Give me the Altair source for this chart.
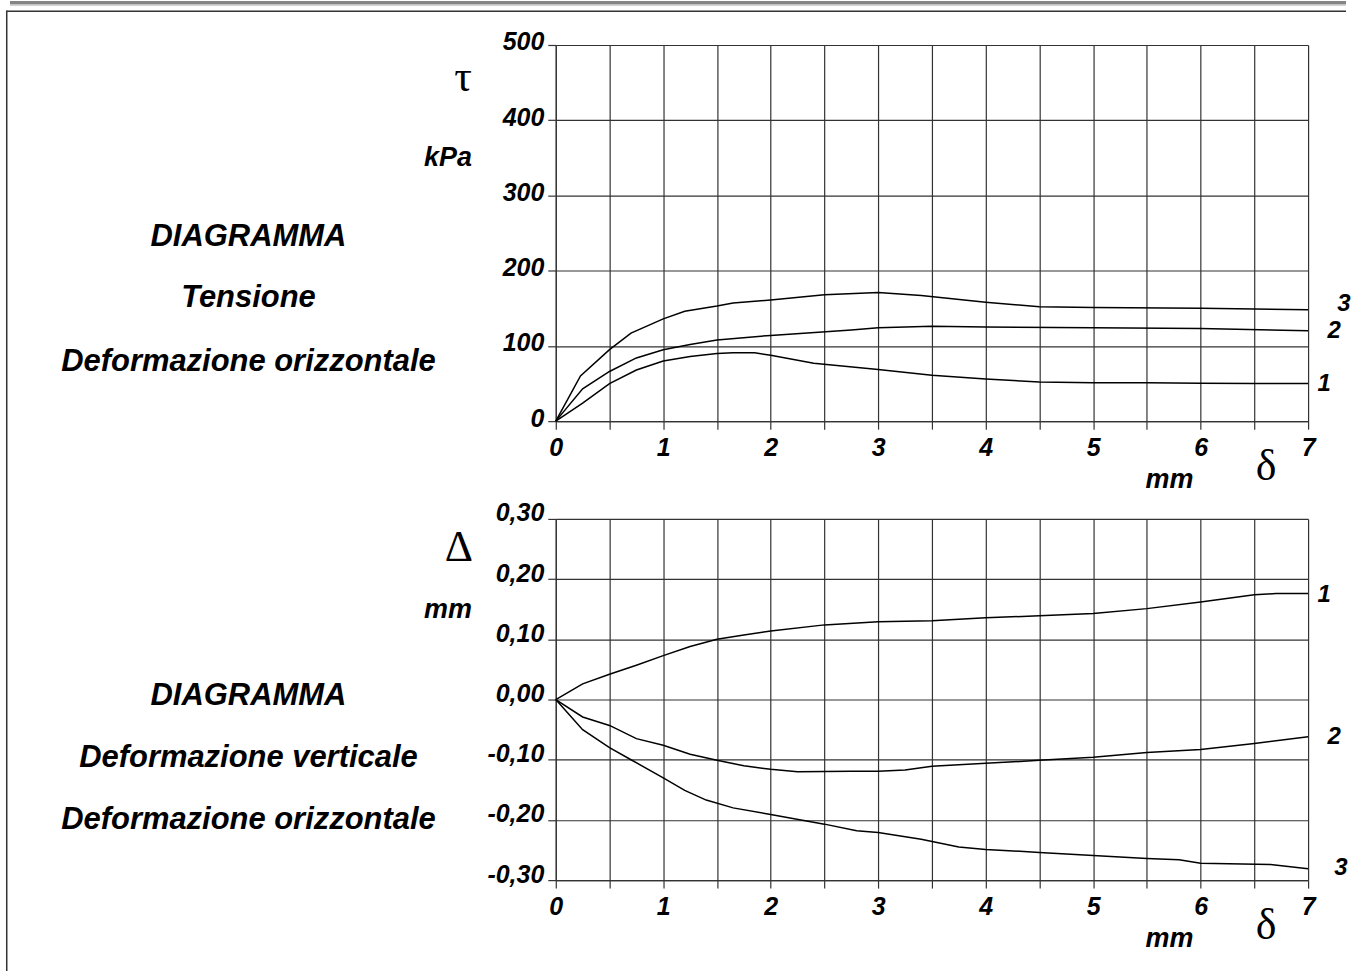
import altair as alt
import pandas as pd

# ---- Shear stress tau (kPa) against horizontal displacement delta (mm) ----
tau_delta_1 = [0, 0.25, 0.5, 0.75, 1.0, 1.25, 1.5, 1.65, 1.85, 2.0, 2.4, 3.0, 3.5, 4.0, 4.5, 5.0, 5.5, 6.0, 6.5, 7.0]
tau_value_1 = [0, 24, 50, 68, 80, 86, 90, 91, 91, 87.5, 77, 68.5, 61, 56, 52, 51, 51, 50.5, 50, 50]

tau_delta_2 = [0, 0.25, 0.5, 0.75, 1.0, 1.25, 1.5, 2.0, 2.75, 3.0, 3.5, 4.0, 5.0, 6.0, 7.0]
tau_value_2 = [0, 43, 66, 84, 95, 102, 108, 114, 121, 124, 126, 125, 124, 123, 120]

tau_delta_3 = [0, 0.23, 0.5, 0.7, 1.0, 1.2, 1.5, 1.65, 2.0, 2.5, 3.0, 3.4, 4.0, 4.5, 5.0, 6.0, 7.0]
tau_value_3 = [0, 60, 95, 117, 136, 146, 153, 157, 161, 168, 171, 167, 158, 152, 151, 150, 148]

# ---- Vertical deformation Delta (mm) against horizontal displacement delta (mm) ----
dv_delta_1 = [0, 0.25, 0.5, 0.75, 1.0, 1.25, 1.5, 1.75, 2.0, 2.5, 3.0, 3.5, 4.0, 4.5, 5.0, 5.5, 6.0, 6.5, 6.7, 7.0]
dv_value_1 = [0, 0.026, 0.042, 0.057, 0.073, 0.088, 0.100, 0.107, 0.114, 0.124, 0.129, 0.131, 0.136, 0.139,
              0.143, 0.151, 0.162, 0.174, 0.176, 0.176]

dv_delta_2 = [0, 0.25, 0.5, 0.75, 1.0, 1.25, 1.5, 1.75, 2.0, 2.25, 2.75, 3.0, 3.25, 3.5, 4.0, 4.5, 5.0, 5.5,
              6.0, 6.5, 7.0]
dv_value_2 = [0, -0.029, -0.043, -0.065, -0.076, -0.091, -0.101, -0.110, -0.116, -0.120, -0.119, -0.119,
              -0.117, -0.111, -0.106, -0.101, -0.096, -0.088, -0.083, -0.073, -0.062]

dv_delta_3 = [0, 0.25, 0.5, 0.7, 1.0, 1.2, 1.4, 1.65, 2.0, 2.5, 2.8, 3.0, 3.4, 3.75, 4.0, 4.5, 5.0, 5.5,
              5.8, 6.0, 6.65, 7.0]
dv_value_3 = [0, -0.050, -0.080, -0.100, -0.130, -0.151, -0.167, -0.180, -0.191, -0.207, -0.218, -0.221,
              -0.232, -0.245, -0.249, -0.254, -0.259, -0.264, -0.266, -0.272, -0.274, -0.281]

curve_names = ["1", "2", "3"]

x_ticks = [i * 0.5 for i in range(15)]
tau_ticks = list(range(0, 501, 50))
dv_ticks = [round(-0.30 + 0.05 * i, 2) for i in range(13)]

SANS = "Liberation Sans"
SERIF = "Liberation Serif"
INK = "#333333"

W = 754
H_TOP = 377
H_BOT = 362


def curves_frame(pairs):
    rows = []
    for name, (xs, ys) in zip(curve_names, pairs):
        for x, y in zip(xs, ys):
            rows.append({"curve": name, "d": x, "v": y})
    return pd.DataFrame(rows)


def axis_common(**kw):
    return alt.Axis(
        title=None, grid=True, gridColor=INK, gridWidth=1.2, gridOpacity=1,
        domainColor=INK, domainWidth=1.2, tickColor=INK, tickWidth=1.2, tickSize=8,
        labelFont=SANS, labelFontSize=25, labelFontStyle="italic", labelFontWeight="bold",
        labelColor="black", labelOverlap=False, labelFlush=False, labelBound=False, **kw)


x_axis = axis_common(values=x_ticks,
                     labelExpr="datum.value % 1 === 0 ? format(datum.value, 'd') : ''",
                     labelPadding=6, labelAlign="center", labelBaseline="top")


def text_at(s, x, y, size, font=SANS, align="center", italic=True, bold=True):
    return alt.Chart(pd.DataFrame({"k": [0]})).mark_text(
        text=s, font=font, fontSize=size, fontStyle="italic" if italic else "normal",
        fontWeight="bold" if bold else "normal", align=align, baseline="middle", color="black"
    ).encode(x=alt.value(x), y=alt.value(y))


def hrule(x1, x2, y, color, w):
    return alt.Chart(pd.DataFrame({"k": [0]})).mark_rule(color=color, strokeWidth=w).encode(
        x=alt.value(x1), x2=alt.value(x2), y=alt.value(y))


def vrule(x, y1, y2, color, w):
    return alt.Chart(pd.DataFrame({"k": [0]})).mark_rule(color=color, strokeWidth=w).encode(
        x=alt.value(x), y=alt.value(y1), y2=alt.value(y2))


def end_label(name, xs, ys, dx, dy, y_scale):
    return alt.Chart(pd.DataFrame({"d": [xs[-1]], "v": [ys[-1]]})).mark_text(
        text=name, font=SANS, fontSize=24, fontStyle="italic", fontWeight="bold",
        align="center", baseline="middle", dx=dx, dy=dy, color="black"
    ).encode(x=alt.X("d:Q", scale=alt.Scale(domain=[0, 7], nice=False)),
             y=alt.Y("v:Q", scale=y_scale))


# ---------------- upper diagram ----------------
tau_scale = alt.Scale(domain=[0, 500], nice=False, zero=False)
tau_lines = alt.Chart(curves_frame([(tau_delta_1, tau_value_1), (tau_delta_2, tau_value_2),
                                    (tau_delta_3, tau_value_3)])).mark_line(
    color="black", strokeWidth=1.5, interpolate="linear"
).encode(
    x=alt.X("d:Q", scale=alt.Scale(domain=[0, 7], nice=False, zero=False), axis=x_axis),
    y=alt.Y("v:Q", scale=tau_scale,
            axis=axis_common(values=tau_ticks, labelExpr="datum.value % 100 === 0 ? datum.label : ''",
                             labelPadding=4, labelOffset=-3)),
    detail="curve:N",
)

top = alt.layer(
    # page frame
    hrule(-547, 792, -42.25, "#858585", 3.5),
    hrule(-547, 792, -39.5, "#d4d4d4", 1),
    hrule(-550.25, 792, -33.75, INK, 1.5),
    vrule(-550.25, -34.5, 928, INK, 1.5),
    tau_lines,
    end_label("1", tau_delta_1, tau_value_1, 16, 0, tau_scale),
    end_label("2", tau_delta_2, tau_value_2, 26, 0, tau_scale),
    end_label("3", tau_delta_3, tau_value_3, 36, -6, tau_scale),
    text_at("\u03c4", -93, 33, 44, font=SERIF, italic=False, bold=False),
    text_at("kPa", -84, 113, 27, align="right"),
    text_at("mm", 615, 436, 27),
    text_at("\u03b4", 712, 423, 44, font=SERIF, italic=False, bold=False),
    text_at("DIAGRAMMA", -308, 192, 31),
    text_at("Tensione", -308, 254, 31),
    text_at("Deformazione orizzontale", -308, 318, 31),
).properties(width=W, height=H_TOP)

# ---------------- lower diagram ----------------
dv_scale = alt.Scale(domain=[-0.3, 0.3], nice=False, zero=False)
dv_label_expr = ("abs(round(datum.value * 100)) % 10 === 0 ? "
                 "(datum.value < -0.001 ? '-' : '') + replace(format(abs(datum.value), '.2f'), '.', ',') : ''")
dv_lines = alt.Chart(curves_frame([(dv_delta_1, dv_value_1), (dv_delta_2, dv_value_2),
                                   (dv_delta_3, dv_value_3)])).mark_line(
    color="black", strokeWidth=1.5, interpolate="linear"
).encode(
    x=alt.X("d:Q", scale=alt.Scale(domain=[0, 7], nice=False, zero=False), axis=x_axis),
    y=alt.Y("v:Q", scale=dv_scale,
            axis=axis_common(values=dv_ticks, labelExpr=dv_label_expr, labelPadding=4, labelOffset=-6)),
    detail="curve:N",
)

bottom = alt.layer(
    dv_lines,
    end_label("1", dv_delta_1, dv_value_1, 16, 1, dv_scale),
    end_label("2", dv_delta_2, dv_value_2, 26, 0, dv_scale),
    end_label("3", dv_delta_3, dv_value_3, 33, -1, dv_scale),
    text_at("\u0394", -97, 29, 44, font=SERIF, italic=False, bold=False),
    text_at("mm", -84, 91, 27, align="right"),
    text_at("mm", 615, 421, 27),
    text_at("\u03b4", 712, 408, 44, font=SERIF, italic=False, bold=False),
    text_at("DIAGRAMMA", -308, 177, 31),
    text_at("Deformazione verticale", -308, 240, 31),
    text_at("Deformazione orizzontale", -308, 302, 31),
).properties(width=W, height=H_BOT)

chart = alt.vconcat(
    top, bottom, spacing=98, bounds="flush",
    padding={"left": 6, "top": 0, "right": 0, "bottom": 0},
    background="white",
).resolve_scale(x="independent", y="independent").configure_view(stroke=None)

chart.save("out.html", embed_options={"renderer": "svg", "actions": False})
